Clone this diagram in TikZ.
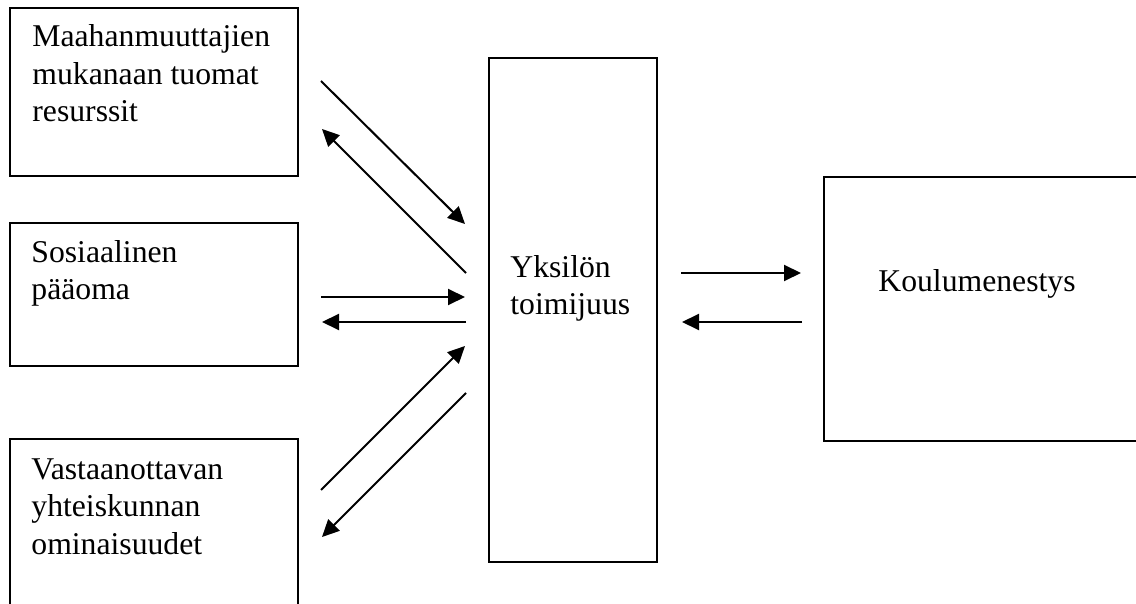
\documentclass[tikz,border=0pt]{standalone}
\usepackage{fontspec}
\setmainfont{Liberation Serif}
\usetikzlibrary{arrows.meta,fit}
\begin{document}
\begin{tikzpicture}[x=0.5pt,y=-0.5pt,
  box/.style={draw=black,line width=1pt,inner sep=0pt},
  lbl/.style={inner sep=0pt,anchor=base west,align=left,font=\fontsize{15.85}{18.75}\selectfont},
  conn/.style={line width=1pt,-{Triangle[length=8.5pt,width=8pt]}}]
\useasboundingbox (0,0) rectangle (1136,604);
\clip (0,0) rectangle (1136,604);
% boxes
\node[box,fit={(10,8) (298,176)}] (b1) {};
\node[box,fit={(10,223) (298,366)}] (b2) {};
\node[box,fit={(10,439) (298,640)}] (b3) {};
\node[box,fit={(489,58) (657,562)}] (mid) {};
\node[box,fit={(824,177) (1160,441)}] (res) {};
% labels (anchored at the baseline of the last line)
\node[lbl] (t1) at (32,122) {Maahanmuuttajien\\mukanaan tuomat\\resurssit};
\node[lbl] (t2) at (31,300) {Sosiaalinen\\pääoma};
\node[lbl] (t3) at (31,554) {Vastaanottavan\\yhteiskunnan\\ominaisuudet};
\node[lbl] (tm) at (510,315) {Yksilön\\toimijuus};
\node[lbl] (tr) at (878,292) {Koulumenestys};
% connector ends
\coordinate (a1s) at (321,81);  \coordinate (a1e) at (465,224);
\coordinate (a2s) at (466,273); \coordinate (a2e) at (322,129);
\coordinate (a3s) at (321,297); \coordinate (a3e) at (465,297);
\coordinate (a4s) at (466,322); \coordinate (a4e) at (322,322);
\coordinate (a5s) at (321,490); \coordinate (a5e) at (465,346);
\coordinate (a6s) at (466,393); \coordinate (a6e) at (322,537);
\coordinate (a7s) at (681,273); \coordinate (a7e) at (801,273);
\coordinate (a8s) at (802,322); \coordinate (a8e) at (682,322);
% connectors
\draw[conn] (a1s) -- (a1e);
\draw[conn] (a2s) -- (a2e);
\draw[conn] (a3s) -- (a3e);
\draw[conn] (a4s) -- (a4e);
\draw[conn] (a5s) -- (a5e);
\draw[conn] (a6s) -- (a6e);
\draw[conn] (a7s) -- (a7e);
\draw[conn] (a8s) -- (a8e);
\end{tikzpicture}
\end{document}
